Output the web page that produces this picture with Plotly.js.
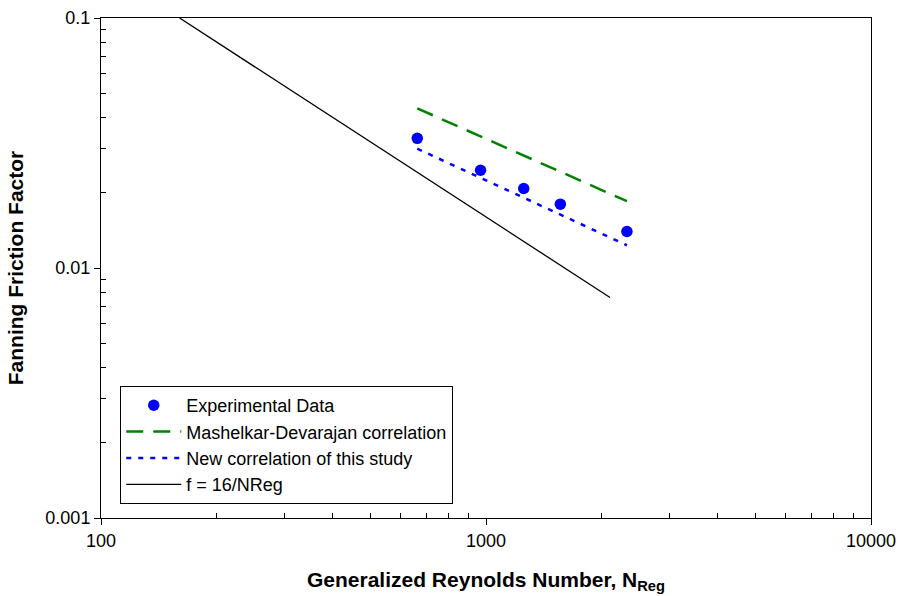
<!DOCTYPE html>
<html>
<head>
<meta charset="utf-8">
<script src="https://cdn.plot.ly/plotly-3.0.1.min.js"></script>
<style>html,body{margin:0;padding:0;background:#fff}#chart{width:900px;height:596px}</style>
</head>
<body>
<div id="chart"></div>
<script>
// Experimental data
const expRe = [663, 968, 1253, 1560, 2323];
const expF = [0.0330, 0.0246, 0.0208, 0.0180, 0.0140];
// Mashelkar-Devarajan correlation
const mdRe = [663, 968, 1253, 1560, 2323];
const mdF = [0.0435, 0.0336, 0.0282, 0.0243, 0.0185];
// New correlation of this study
const newRe = [663, 968, 1253, 1560, 2323];
const newF = [0.0300, 0.0229, 0.0191, 0.0164, 0.01233];
// f = 16/NReg laminar line
const lamRe = [160, 2100];
const lamF = [0.1, 0.00762];

const xTickVals = [100, 1000, 10000];
const xTickText = ['100', '1000', '10000'];
const yTickVals = [0.001, 0.01, 0.1];
const yTickText = ['0.001', '0.01', '0.1'];

function minorVals(lo, hi) {
  const v = [];
  for (let k = lo; k < hi; k++) for (let m = 2; m <= 9; m++) v.push(m * Math.pow(10, k));
  return v;
}

const traces = [
  {x: expRe, y: expF, mode: 'markers', name: 'Experimental Data',
   marker: {color: '#0000ff', size: 11.5}},
  {x: mdRe, y: mdF, mode: 'lines', name: 'Mashelkar-Devarajan correlation',
   line: {color: '#008000', width: 2.5, dash: '17px,10px'}},
  {x: newRe, y: newF, mode: 'lines', name: 'New correlation of this study',
   line: {color: '#0000ff', width: 2.5, dash: '5px,7px'}},
  {x: lamRe, y: lamF, mode: 'lines', name: 'f = 16/NReg',
   line: {color: '#000000', width: 1.3}}
];

const layout = {
  width: 900, height: 596,
  margin: {l: 101, r: 29, t: 18, b: 78},
  paper_bgcolor: '#ffffff', plot_bgcolor: '#ffffff',
  font: {family: 'Arial, Liberation Sans, sans-serif', size: 18, color: '#000'},
  showlegend: true,
  legend: {x: 0.025, y: 0.028, xanchor: 'left', yanchor: 'bottom',
    bgcolor: '#ffffff', bordercolor: '#000', borderwidth: 1,
    font: {size: 18, color: '#000'}, tracegroupgap: 0, itemwidth: 55},
  xaxis: {type: 'log', range: [2, 4], showgrid: false, zeroline: false,
    showline: true, linecolor: '#000', linewidth: 1, mirror: true,
    tickmode: 'array', tickvals: xTickVals, ticktext: xTickText,
    ticks: 'outside', ticklen: 6, tickcolor: '#000',
    minor: {tickmode: 'array', tickvals: minorVals(2, 4), ticks: 'inside', ticklen: 5, tickcolor: '#000', showgrid: false},
    tickfont: {size: 18},
    title: {text: '<b>Generalized Reynolds Number, N<sub>Reg</sub></b>', font: {size: 21}, standoff: 22}},
  yaxis: {type: 'log', range: [-3, -1], showgrid: false, zeroline: false,
    showline: true, linecolor: '#000', linewidth: 1, mirror: true,
    tickmode: 'array', tickvals: yTickVals, ticktext: yTickText,
    ticks: 'outside', ticklen: 6, tickcolor: '#000',
    minor: {tickmode: 'array', tickvals: minorVals(-3, -1), ticks: 'inside', ticklen: 5, tickcolor: '#000', showgrid: false},
    tickfont: {size: 18},
    title: {text: '<b>Fanning Friction Factor</b>', font: {size: 21}, standoff: 16}}
};

Plotly.newPlot('chart', traces, layout, {displayModeBar: false, staticPlot: true});
</script>
</body>
</html>
